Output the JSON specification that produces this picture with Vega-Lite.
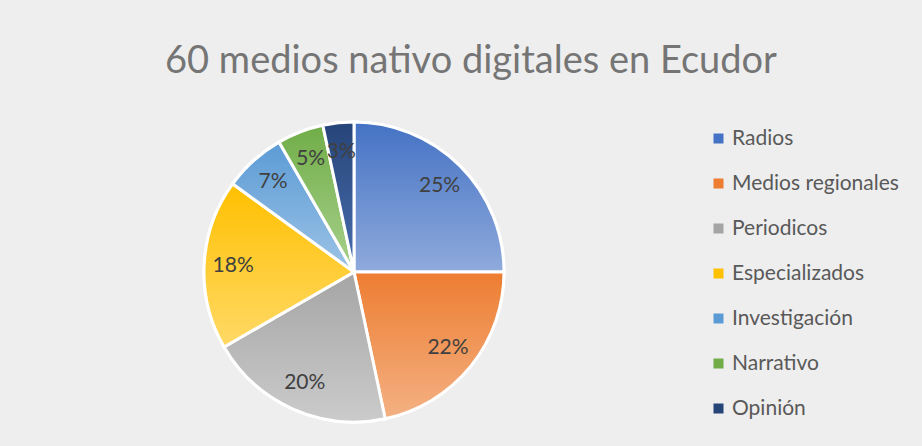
{
  "$schema": "https://vega.github.io/schema/vega-lite/v6.json",
  "autosize": "none",
  "width": 300,
  "height": 300,
  "padding": {"left": 204, "top": 122, "right": 418, "bottom": 24},
  "background": "#EEEEEE",
  "title": {
    "text": "60 medios nativo digitales en Ecudor",
    "font": "Lato",
    "fontSize": 38,
    "fontWeight": "normal",
    "color": "#757575",
    "anchor": "middle",
    "frame": "group",
    "baseline": "alphabetic",
    "offset": 5,
    "dx": 117
  },
  "data": {
    "values": [
      {"tipo": "Radios", "n": 15, "pct": 0.25, "i": 1},
      {"tipo": "Medios regionales", "n": 13, "pct": 0.22, "i": 2},
      {"tipo": "Periodicos", "n": 12, "pct": 0.20, "i": 3},
      {"tipo": "Especializados", "n": 11, "pct": 0.18, "i": 4},
      {"tipo": "Investigación", "n": 4, "pct": 0.07, "i": 5},
      {"tipo": "Narrativo", "n": 3, "pct": 0.05, "i": 6},
      {"tipo": "Opinión", "n": 2, "pct": 0.03, "i": 7}
    ]
  },
  "encoding": {
    "theta": {"field": "n", "type": "quantitative", "stack": true},
    "order": {"field": "i", "type": "quantitative"}
  },
  "layer": [
    {
      "mark": {"type": "arc", "stroke": "#FFFFFF", "strokeWidth": 3},
      "encoding": {
        "color": {
          "field": "tipo",
          "type": "nominal",
          "sort": ["Radios", "Medios regionales", "Periodicos", "Especializados", "Investigación", "Narrativo", "Opinión"],
          "scale": {
            "domain": ["Radios", "Medios regionales", "Periodicos", "Especializados", "Investigación", "Narrativo", "Opinión"],
            "range": ["#4472C4", "#ED7D31", "#A5A5A5", "#FFC000", "#5B9BD5", "#70AD47", "#264478"]
          },
          "legend": {
            "title": null,
            "orient": "none",
            "legendX": 504,
            "legendY": 6,
            "symbolType": "square",
            "symbolSize": 100,
            "symbolStrokeWidth": 0,
            "labelFont": "Lato",
            "labelFontSize": 21,
            "labelColor": "#595959",
            "labelOffset": 3,
            "labelLimit": 300,
            "rowPadding": 23,
            "padding": 0
          }
        }
      }
    },
    {
      "mark": {"type": "arc", "stroke": "#FFFFFF", "strokeWidth": 3},
      "encoding": {
        "fill": {
          "condition": [
            {"test": "datum.tipo === 'Radios'", "value": {"gradient": "linear", "x1": 0, "y1": 0, "x2": 0, "y2": 1, "stops": [{"offset": 0, "color": "#4472C4"}, {"offset": 1, "color": "#8FAADC"}]}},
            {"test": "datum.tipo === 'Medios regionales'", "value": {"gradient": "linear", "x1": 0, "y1": 0, "x2": 0, "y2": 1, "stops": [{"offset": 0, "color": "#ED7D31"}, {"offset": 1, "color": "#F4B183"}]}},
            {"test": "datum.tipo === 'Periodicos'", "value": {"gradient": "linear", "x1": 0, "y1": 0, "x2": 0, "y2": 1, "stops": [{"offset": 0, "color": "#A5A5A5"}, {"offset": 1, "color": "#CBCBCB"}]}},
            {"test": "datum.tipo === 'Especializados'", "value": {"gradient": "linear", "x1": 0, "y1": 0, "x2": 0, "y2": 1, "stops": [{"offset": 0, "color": "#FFC000"}, {"offset": 1, "color": "#FFD966"}]}},
            {"test": "datum.tipo === 'Investigación'", "value": {"gradient": "linear", "x1": 0, "y1": 0, "x2": 0, "y2": 1, "stops": [{"offset": 0, "color": "#5B9BD5"}, {"offset": 1, "color": "#9DC3E6"}]}},
            {"test": "datum.tipo === 'Narrativo'", "value": {"gradient": "linear", "x1": 0, "y1": 0, "x2": 0, "y2": 1, "stops": [{"offset": 0, "color": "#70AD47"}, {"offset": 1, "color": "#A9D18E"}]}}
          ],
          "value": {"gradient": "linear", "x1": 0, "y1": 0, "x2": 0, "y2": 1, "stops": [{"offset": 0, "color": "#264478"}, {"offset": 1, "color": "#4A6FB0"}]}
        }
      }
    },
    {
      "mark": {"type": "text", "radius": 121, "font": "Lato", "fontSize": 21, "color": "#404040"},
      "encoding": {
        "text": {"field": "pct", "type": "quantitative", "format": ".0%"}
      }
    }
  ],
  "config": {"view": {"stroke": null}}
}
